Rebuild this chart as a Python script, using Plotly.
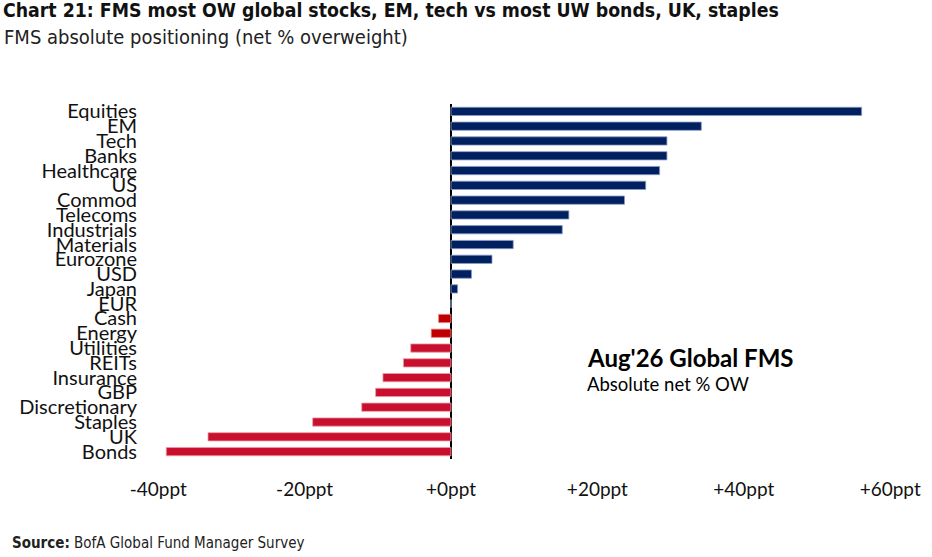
import plotly.graph_objects as go

# Aug'26 FMS absolute positioning, net % overweight
assets = ['Equities', 'EM', 'Tech', 'Banks', 'Healthcare', 'US', 'Commod',
          'Telecoms', 'Industrials', 'Materials', 'Eurozone', 'USD', 'Japan',
          'EUR', 'Cash', 'Energy', 'Utilities', 'REITs', 'Insurance', 'GBP',
          'Discretionary', 'Staples', 'UK', 'Bonds']
net_ow = [56.1, 34.2, 29.5, 29.5, 28.5, 26.6, 23.7,
          16.1, 15.2, 8.5, 5.6, 2.8, 0.9,
          0.0, -1.7, -2.7, -5.5, -6.5, -9.3, -10.3,
          -12.2, -18.9, -33.2, -38.9]
tick_vals = [-40, -20, 0, 20, 40, 60]
tick_text = ['-40ppt', '-20ppt', '+0ppt', '+20ppt', '+40ppt', '+60ppt']

NAVY = '#00205F'
RED = '#C8102E'
DARK_RED = '#C00000'

colors = []
edges = []
for name, v in zip(assets, net_ow):
    if v >= 0:
        colors.append(NAVY)
        edges.append('#8A9CC8')
    elif name in ('Cash', 'Energy'):
        colors.append(DARK_RED)
        edges.append('#E08A8A')
    else:
        colors.append(RED)
        edges.append('#EE9AA8')

LABEL_FONT = 'Lato, Open Sans, sans-serif'
NARROW_FONT = 'Liberation Sans Narrow, DejaVu Sans Condensed, Roboto, sans-serif'

fig = go.Figure(go.Bar(
    x=net_ow, y=assets, orientation='h',
    marker=dict(color=colors, line=dict(color=edges, width=0.8)),
    hoverinfo='x+y'))

fig.update_layout(
    width=932, height=557,
    margin=dict(l=140, r=20, t=104, b=98),
    plot_bgcolor='white', paper_bgcolor='white',
    bargap=0.44, showlegend=False,
    font=dict(family=LABEL_FONT, color='#111111'),
    xaxis=dict(range=[-42.49, 62.98], tickvals=tick_vals, ticktext=tick_text,
               showgrid=False, zeroline=True, zerolinecolor='#000000',
               zerolinewidth=1.6, showline=False, ticks='',
               tickfont=dict(size=19, family=LABEL_FONT),
               ticklabelstandoff=17),
    yaxis=dict(autorange='reversed', showgrid=False, showline=False,
               tickmode='array', tickvals=assets, ticktext=assets,
               ticks='', tickfont=dict(size=20, family=LABEL_FONT),
               ticklabelstandoff=2),
)

annotations = [
    dict(text='<b>Chart 21: FMS most OW global stocks, EM, tech vs most UW bonds, UK, staples</b>',
         x=-0.180, y=1.263, font=dict(size=19.3, family=NARROW_FONT, color='#111111')),
    dict(text='FMS absolute positioning (net % overweight)',
         x=-0.1788, y=1.189, font=dict(size=20, family=NARROW_FONT, color='#222222')),
    dict(text="<b>Aug'26 Global FMS</b>",
         x=0.577, y=0.287, font=dict(size=24, family=LABEL_FONT, color='#000000')),
    dict(text='Absolute net % OW',
         x=0.577, y=0.211, font=dict(size=18.5, family=LABEL_FONT, color='#000000')),
    dict(text='<b>Source:</b> BofA Global Fund Manager Survey',
         x=-0.1684, y=-0.2366, font=dict(size=15, family=NARROW_FONT, color='#222222')),
]
for a in annotations:
    fig.add_annotation(xref='paper', yref='paper', xanchor='left', yanchor='middle',
                       showarrow=False, **a)

# drop the browser's default body margin so the figure sits at the top-left corner
fig.write_html("out.html", config={'displayModeBar': False},
               post_script="document.body.style.margin='0px';")
